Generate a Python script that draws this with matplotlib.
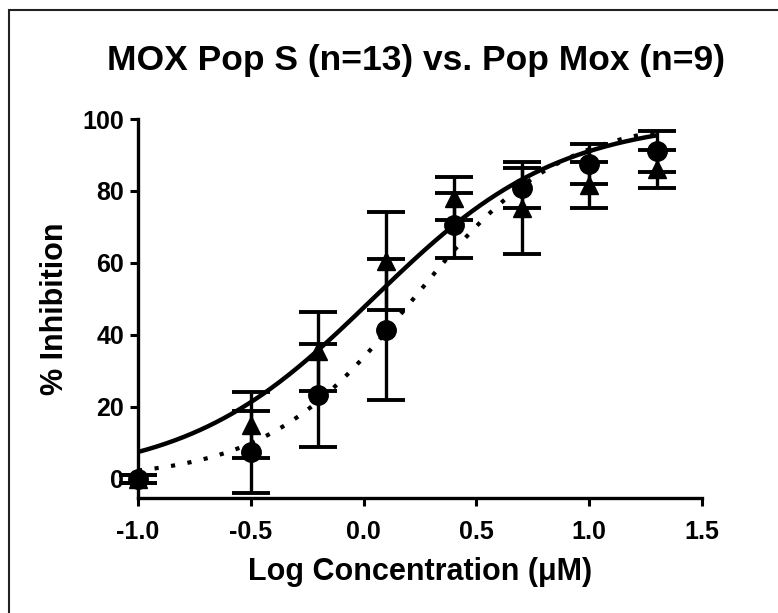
import numpy as np
import matplotlib
matplotlib.use("Agg")
import matplotlib.pyplot as plt
from matplotlib.patches import Rectangle

plt.rcParams['font.family'] = ['Liberation Sans', 'DejaVu Sans']
plt.rcParams['font.weight'] = 'bold'

# ---- data ----
log_conc = [-1.0, -0.5, -0.2, 0.1, 0.4, 0.7, 1.0, 1.3]
pop_s_mean = [0.0, 7.5, 23.3, 41.5, 70.5, 80.8, 87.5, 91.0]
pop_s_sem = [1.0, 11.5, 14.3, 19.5, 9.0, 5.6, 5.5, 5.8]
pop_mox_mean = [0.0, 15.0, 35.5, 60.5, 78.0, 75.3, 81.7, 86.0]
pop_mox_sem = [1.0, 9.2, 11.0, 13.7, 6.0, 12.8, 6.4, 5.3]

# fitted sigmoid parameters (bottom, top, logEC50, hill slope)
pop_s_fit = [0.0, 100.0, 0.22, 1.33]
pop_mox_fit = [0.0, 100.0, 0.04, 1.05]

x_ticks = [-1.0, -0.5, 0.0, 0.5, 1.0, 1.5]
x_tick_labels = ['-1.0', '-0.5', '0.0', '0.5', '1.0', '1.5']
y_ticks = [0, 20, 40, 60, 80, 100]
y_tick_labels = ['0', '20', '40', '60', '80', '100']


def sigmoid(x, p):
    bottom, top, logec50, hill = p
    return bottom + (top - bottom) / (1 + 10 ** ((logec50 - x) * hill))


W, H = 778, 613
fig = plt.figure(figsize=(W / 100, H / 100), dpi=100)

# frame border around the graph
fig.add_artist(Rectangle((9 / W, -0.05), 1.2, 1 - 10 / H + 0.05,
                         transform=fig.transFigure, fill=False,
                         edgecolor='#222222', linewidth=1.5))

ax = fig.add_axes([138 / W, 1 - 498 / H, 564 / W, (498 - 119) / H])
ax.set_xlim(-1.0, 1.5)
ax.set_ylim(-5.3, 100)

xs = np.linspace(min(log_conc), max(log_conc), 400)
ax.plot(xs, sigmoid(xs, pop_mox_fit), color='black', lw=3.2,
        solid_capstyle='butt', zorder=2)
ax.plot(xs, sigmoid(xs, pop_s_fit), color='black', lw=3,
        linestyle=(0, (1, 3)), dash_capstyle='butt', zorder=2)

for mean, sem, mk, ms in [(pop_mox_mean, pop_mox_sem, '^', 13),
                          (pop_s_mean, pop_s_sem, 'o', 14)]:
    eb = ax.errorbar(log_conc, mean, yerr=sem, fmt=mk, color='black',
                     markersize=ms, elinewidth=2.4, capsize=14,
                     capthick=2.8, zorder=3)
    for art in [eb.lines[0]] + list(eb.lines[1]) + list(eb.lines[2]):
        art.set_clip_on(False)

for side in ['top', 'right']:
    ax.spines[side].set_visible(False)
for side in ['left', 'bottom']:
    ax.spines[side].set_linewidth(2.4)

ax.set_xticks(x_ticks)
ax.set_xticklabels(x_tick_labels)
ax.set_yticks(y_ticks)
ax.set_yticklabels(y_tick_labels)
ax.tick_params(axis='both', direction='out', length=6, width=2.2,
               labelsize=18)
ax.tick_params(axis='x', pad=10)
ax.tick_params(axis='y', pad=4)
for lbl in ax.get_xticklabels() + ax.get_yticklabels():
    lbl.set_fontweight('bold')

ax.set_xlabel('Log Concentration (\u03bcM)', fontsize=22, fontweight='bold')
ax.xaxis.set_label_coords(0.5, -0.155)
ax.set_ylabel('% Inhibition', fontsize=22, fontweight='bold')
ax.yaxis.set_label_coords(-0.12, 0.5)
fig.text(416 / W, 1 - 70 / H,
         'MOX Pop S (n=13) vs. Pop Mox (n=9)', ha='center', va='baseline',
         fontsize=25.5, fontweight='bold')

fig.savefig('out.png', dpi=100)
